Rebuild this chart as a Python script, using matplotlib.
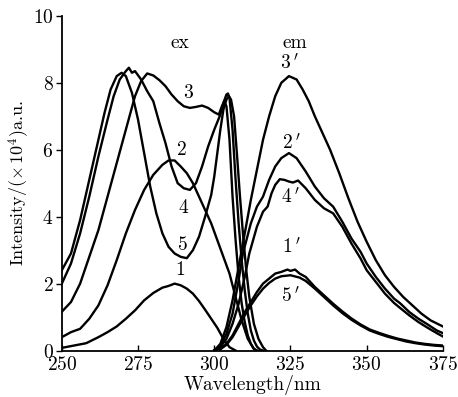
import matplotlib
matplotlib.use("Agg")
import matplotlib.pyplot as plt

plt.rcParams['font.family'] = ['cmr10', 'DejaVu Serif']
plt.rcParams['mathtext.fontset'] = 'cm'
plt.rcParams['axes.formatter.use_mathtext'] = True

# excitation spectra (ex)
ex1_x = [250, 254, 258, 262, 265, 268, 271, 274, 277, 280, 283, 285, 287, 289, 291, 293, 295, 297, 299, 301, 303, 305, 307]
ex1_y = [0.08, 0.15, 0.22, 0.40, 0.55, 0.72, 0.95, 1.20, 1.50, 1.72, 1.88, 1.93, 2.00, 1.95, 1.85, 1.70, 1.48, 1.22, 0.95, 0.68, 0.35, 0.10, 0.0]

ex2_x = [250, 253, 256, 259, 262, 265, 268, 271, 274, 277, 280, 283, 285, 287, 289, 291, 293, 295, 297, 299, 301, 303, 305, 307, 309, 311, 313, 314]
ex2_y = [0.40, 0.55, 0.65, 0.95, 1.35, 1.95, 2.70, 3.50, 4.20, 4.80, 5.25, 5.55, 5.68, 5.68, 5.50, 5.30, 5.00, 4.60, 4.20, 3.80, 3.30, 2.80, 2.30, 1.60, 0.90, 0.35, 0.05, 0.0]

ex3_x = [250, 253, 256, 259, 262, 265, 268, 271, 274, 276, 278, 280, 282, 284, 286, 288, 290, 292, 294, 296, 298, 300, 301.5,
         302.5, 303.3, 304, 305, 306, 307, 308, 309, 310, 311, 312, 313, 314]
ex3_y = [1.16, 1.45, 2.0, 2.8, 3.6, 4.6, 5.6, 6.6, 7.6, 8.05, 8.28, 8.22, 8.08, 7.90, 7.65, 7.45, 7.30, 7.25, 7.28, 7.32, 7.25, 7.12, 7.05,
         7.30, 7.45, 7.30, 6.30, 4.60, 3.30, 2.20, 1.40, 0.85, 0.45, 0.20, 0.05, 0.0]

ex4_x = [250, 253, 256, 259, 262, 265, 267, 269, 271, 272, 273, 274, 276, 278, 280, 282, 284, 286, 288, 290, 292, 294, 296, 298, 300,
         302, 303, 304, 304.5, 305, 306, 307, 308, 309, 310, 311, 312, 313, 314, 315, 316]
ex4_y = [2.0, 2.6, 3.5, 4.6, 5.8, 6.9, 7.6, 8.1, 8.35, 8.45, 8.30, 8.35, 8.10, 7.75, 7.45, 6.80, 6.20, 5.50, 5.00, 4.85, 4.80, 5.00, 5.50, 6.10, 6.60,
         7.05, 7.40, 7.65, 7.68, 7.55, 6.60, 5.10, 3.80, 2.70, 1.80, 1.10, 0.60, 0.30, 0.12, 0.03, 0.0]

ex5_x = [250, 253, 256, 259, 262, 264, 266, 268, 269.6, 271, 273, 275, 277, 279, 281, 283, 285, 287, 289, 291, 293, 295, 297, 299,
         300, 301, 302, 303, 304, 304.8, 305.5, 306.5, 307.5, 308.4, 309.5, 310.5, 311.5, 313, 314.5, 316, 317]
ex5_y = [2.4, 2.9, 3.9, 5.1, 6.3, 7.1, 7.8, 8.2, 8.30, 8.2, 7.7, 6.9, 5.9, 4.9, 4.1, 3.5, 3.1, 2.9, 2.8, 2.76, 3.0, 3.4, 4.0, 4.65,
         5.2, 5.9, 6.6, 7.2, 7.5, 7.6, 7.5, 7.0, 5.8, 4.65, 3.4, 2.4, 1.6, 0.8, 0.35, 0.1, 0.0]

# emission spectra (em)
em3_x = [300, 302, 304, 306, 308, 310, 312, 314, 316, 318, 320, 322, 324.5, 327, 329, 331, 333, 335, 338, 341, 344, 347, 350, 353,
         356, 359, 362, 365, 368, 371, 375]
em3_y = [0.0, 0.2, 0.7, 1.5, 2.5, 3.5, 4.5, 5.4, 6.3, 7.0, 7.6, 8.0, 8.2, 8.1, 7.8, 7.45, 7.0, 6.6, 6.0, 5.3, 4.55, 3.85, 3.25, 2.7,
         2.25, 1.9, 1.6, 1.35, 1.1, 0.9, 0.72]

em2_x = [300, 302, 304, 306, 308, 309.4, 312, 314, 316, 318, 320, 322, 324.5, 327, 330, 333, 336, 339, 342, 345, 348, 350, 353, 356,
         359, 361, 364, 367, 370, 373, 375]
em2_y = [0.0, 0.15, 0.5, 1.1, 2.1, 2.9, 3.8, 4.3, 4.6, 5.1, 5.5, 5.75, 5.9, 5.75, 5.35, 4.9, 4.55, 4.3, 3.85, 3.35, 2.95, 2.6, 2.2, 1.85,
         1.55, 1.41, 1.15, 0.95, 0.78, 0.6, 0.52]

em4_x = [300, 302, 304, 306, 308, 310, 311.5, 314, 316, 317.5, 318.8, 320, 321.5, 323, 324.5, 325.8, 327.5, 330, 333, 336, 339, 342,
         345, 348, 350, 353, 356, 359, 361, 364, 367, 370, 373, 375]
em4_y = [0.0, 0.1, 0.35, 0.8, 1.4, 2.2, 2.9, 3.7, 4.15, 4.3, 4.7, 4.95, 5.12, 5.1, 5.05, 5.02, 5.08, 4.85, 4.5, 4.25, 4.1, 3.7,
         3.2, 2.75, 2.4, 2.05, 1.7, 1.42, 1.27, 1.05, 0.85, 0.68, 0.52, 0.42]

em1_x = [300, 302, 304, 306, 308, 310, 312, 314, 316, 318, 320, 322, 324, 325, 326.5, 328, 330, 333, 336, 339, 342, 345, 348, 351,
         354, 357, 360, 363, 366, 369, 372, 375]
em1_y = [0.0, 0.05, 0.2, 0.45, 0.8, 1.15, 1.45, 1.75, 2.0, 2.15, 2.3, 2.35, 2.42, 2.38, 2.42, 2.3, 2.2, 1.9, 1.65, 1.4, 1.17, 0.96, 0.78, 0.63,
         0.53, 0.44, 0.36, 0.30, 0.24, 0.20, 0.17, 0.15]

em5_x = [300, 302, 304, 306, 308, 310, 312, 314, 316, 318, 320, 322, 325, 328, 330, 333, 336, 339, 342, 345, 348, 351, 354, 357, 360,
         363, 366, 369, 372, 375]
em5_y = [0.0, 0.04, 0.17, 0.4, 0.72, 1.05, 1.35, 1.62, 1.85, 2.02, 2.15, 2.22, 2.25, 2.18, 2.08, 1.85, 1.6, 1.35, 1.12, 0.92, 0.75, 0.6,
         0.5, 0.41, 0.34, 0.27, 0.22, 0.18, 0.15, 0.13]

curves = [(ex1_x, ex1_y), (ex2_x, ex2_y), (ex3_x, ex3_y), (ex4_x, ex4_y), (ex5_x, ex5_y),
          (em3_x, em3_y), (em2_x, em2_y), (em4_x, em4_y), (em1_x, em1_y), (em5_x, em5_y)]

# curve labels
label_text = ["ex", "em", "3", "2", "4", "5", "1", r"$3\,'$", r"$2\,'$", r"$4\,'$", r"$1\,'$", r"$5\,'$"]
label_x = [288.7, 326.4, 291.3, 289.3, 290.0, 289.7, 288.7, 324.8, 325.5, 325.0, 325.3, 325.0]
label_y = [9.2, 9.2, 7.7, 6.0, 4.25, 3.15, 2.4, 8.6, 6.2, 4.6, 3.1, 1.65]

fig = plt.figure(figsize=(4.58, 3.97), dpi=100)
ax = fig.add_axes([0.135, 0.117, 0.832, 0.843])

for xs, ys in curves:
    ax.plot(xs, ys, color='black', lw=1.7)

for t, x, y in zip(label_text, label_x, label_y):
    ax.text(x, y, t, fontsize=14, ha='center', va='center')

ax.set_xlim(250, 375)
ax.set_ylim(0, 10)
ax.set_xticks([250, 275, 300, 325, 350, 375])
ax.set_yticks([0, 2, 4, 6, 8, 10])
ax.tick_params(axis='x', direction='in', length=4, width=1, labelsize=14, pad=4)
ax.tick_params(axis='y', direction='out', length=4, width=1, labelsize=14, pad=2)
ax.spines['top'].set_visible(False)
ax.spines['right'].set_visible(False)
ax.spines['left'].set_linewidth(1.3)
ax.spines['bottom'].set_linewidth(1.3)
ax.set_xlabel("Wavelength/nm", fontsize=14, labelpad=1)
ax.set_ylabel(r"Intensity/($\times\,10^4$)a.u.", fontsize=13)
ax.yaxis.set_label_coords(-0.078, 0.5)

fig.savefig("out.png", dpi=100)
